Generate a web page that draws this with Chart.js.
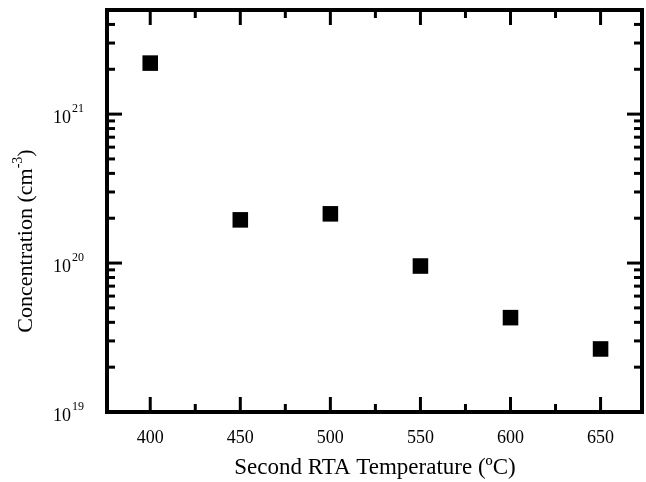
<!DOCTYPE html>
<html>
<head>
<meta charset="utf-8">
<script src="https://cdn.jsdelivr.net/npm/chart.js@4/dist/chart.umd.min.js"></script>
<style>
  html, body { margin: 0; padding: 0; background: #fff; overflow: hidden; }
  #chart { display: block; }
</style>
</head>
<body>
<canvas id="chart" width="646" height="482"></canvas>
<script>
// data
const temperatures = [400, 450, 500, 550, 600, 650]
const concentrations = [2.2e21, 1.95e20, 2.14e20, 9.55e19, 4.3e19, 2.65e19]

// axis ticks
const xMajorTicks = [400, 450, 500, 550, 600, 650]
const xMinorTicks = [425, 475, 525, 575, 625]
const yMajorTicks = [1e19, 1e20, 1e21]
const yExponents = ["19", "20", "21"]
const yMinorTicks = [2e19, 3e19, 4e19, 5e19, 6e19, 7e19, 8e19, 9e19,
    2e20, 3e20, 4e20, 5e20, 6e20, 7e20, 8e20, 9e20,
    2e21, 3e21, 4e21]

const serif = '"Liberation Serif", "Times New Roman", serif'

//#region frame plugin: box, inward ticks, labels, titles
const framePlugin = {
    id: "frame",
    afterDraw: chart => {
        const ctx = chart.ctx
        const { left, right, top, bottom } = chart.chartArea
        const xs = chart.scales.x
        const ys = chart.scales.y

        ctx.save()
        ctx.strokeStyle = "#000"
        ctx.fillStyle = "#000"
        ctx.lineCap = "butt"

        // ticks
        ctx.lineWidth = 3
        const tick = (x1, y1, x2, y2) => {
            ctx.beginPath()
            ctx.moveTo(x1, y1)
            ctx.lineTo(x2, y2)
            ctx.stroke()
        }
        xMajorTicks.forEach(v => {
            let x = xs.getPixelForValue(v)
            tick(x, bottom, x, bottom - 15)
            tick(x, top, x, top + 15)
        })
        xMinorTicks.forEach(v => {
            let x = xs.getPixelForValue(v)
            tick(x, bottom, x, bottom - 8)
            tick(x, top, x, top + 8)
        })
        yMajorTicks.forEach(v => {
            let y = ys.getPixelForValue(v)
            tick(left, y, left + 15, y)
            tick(right, y, right - 15, y)
        })
        yMinorTicks.forEach(v => {
            let y = ys.getPixelForValue(v)
            tick(left, y, left + 8, y)
            tick(right, y, right - 8, y)
        })

        // box
        ctx.lineWidth = 4
        ctx.strokeRect(left, top, right - left, bottom - top)

        // x tick labels
        ctx.font = "18px " + serif
        ctx.textAlign = "center"
        ctx.textBaseline = "alphabetic"
        xMajorTicks.forEach(v => {
            ctx.fillText(String(v), xs.getPixelForValue(v), 443)
        })

        // y tick labels 10^n
        yMajorTicks.forEach((v, i) => {
            let y = ys.getPixelForValue(v)
            ctx.textAlign = "left"
            ctx.font = "18px " + serif
            ctx.fillText("10", 53, y + 9)
            let w = ctx.measureText("10").width
            ctx.font = "12px " + serif
            ctx.fillText(yExponents[i], 53 + w + 1, y - 2)
        })

        // x title
        ctx.font = "23px " + serif
        ctx.textAlign = "center"
        ctx.fillText("Second RTA Temperature (ºC)", 375, 474)

        // y title, rotated, with superscript
        ctx.translate(32, 241)
        ctx.rotate(-Math.PI / 2)
        const main = "Concentration (cm"
        const sup = "-3"
        const close = ")"
        ctx.font = "22px " + serif
        let wMain = ctx.measureText(main).width
        let wClose = ctx.measureText(close).width
        ctx.font = "14px " + serif
        let wSup = ctx.measureText(sup).width
        let x0 = -(wMain + wSup + wClose) / 2
        ctx.textAlign = "left"
        ctx.font = "22px " + serif
        ctx.fillText(main, x0, 0)
        ctx.font = "14px " + serif
        ctx.fillText(sup, x0 + wMain, -10)
        ctx.font = "22px " + serif
        ctx.fillText(close, x0 + wMain + wSup, 0)

        ctx.restore()
    }
}
//#endregion

//#region chart
new Chart("chart", {
    type: "scatter",
    data: {
        datasets: [{
            data: temperatures.map((t, i) => ({ x: t, y: concentrations[i] })),
            pointStyle: "rect",
            pointRadius: 11,
            pointHoverRadius: 11,
            backgroundColor: "#000",
            borderColor: "#000",
            borderWidth: 0
        }]
    },
    options: {
        responsive: false,
        animation: false,
        devicePixelRatio: 1,
        layout: {
            autoPadding: false,
            padding: { left: 107, right: 4, top: 10, bottom: 70 }
        },
        plugins: {
            legend: { display: false },
            tooltip: { enabled: false }
        },
        scales: {
            x: { type: "linear", min: 376, max: 673, display: false },
            y: { type: "logarithmic", min: 1e19, max: 5e21, display: false }
        }
    },
    plugins: [framePlugin]
})
//#endregion
</script>
</body>
</html>
